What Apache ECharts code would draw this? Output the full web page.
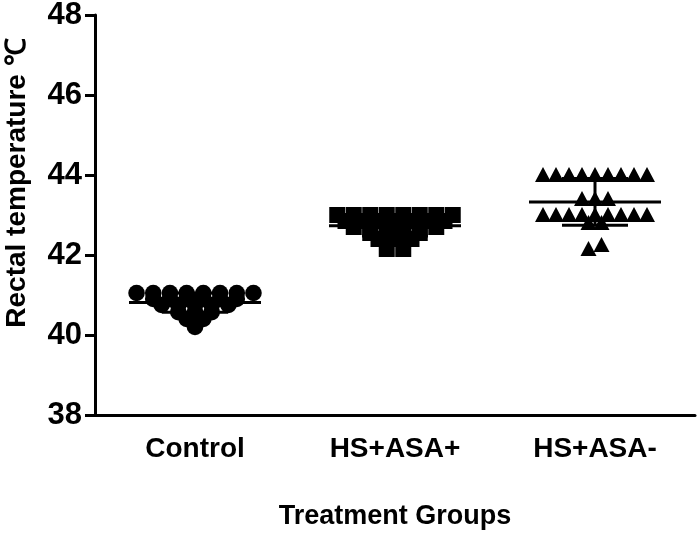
<!DOCTYPE html>
<html><head><meta charset="utf-8">
<script src="https://cdn.jsdelivr.net/npm/echarts@6/dist/echarts.min.js"></script>
<style>html,body{margin:0;padding:0;background:#fff}#c{width:700px;height:535px}</style>
</head><body><div id="c"></div>
<script>
const categories = ['Control', 'HS+ASA+', 'HS+ASA-'];
const controlValues = [41.05,41.05,41.05,41.05,41.05,41.05,41.05,41.05,
  40.9,40.9,40.9,40.9,40.9,40.9,
  40.75,40.75,40.75,40.75,40.75,
  40.57,40.57,40.57,
  40.4,40.4,
  40.2];
const hsAsaPlusValues = [43.0,43.0,43.0,43.0,43.0,43.0,43.0,43.0,
  42.85,42.85,42.85,42.85,42.85,42.85,42.85,
  42.7,42.7,42.7,42.7,42.7,42.7,
  42.55,42.55,42.55,42.55,
  42.4,42.4,42.4,
  42.15,42.15];
const hsAsaMinusValues = [44.0,44.0,44.0,44.0,44.0,44.0,44.0,44.0,44.0,
  43.4,43.4,43.4,
  43.0,43.0,43.0,43.0,43.0,43.0,43.0,43.0,43.0,
  42.8,42.8,
  42.25,42.15];
const yTicks = [38, 40, 42, 44, 46, 48];

const FONT = "'Liberation Sans', Arial, sans-serif";

// beeswarm-like row layout: values close together share a row, centred on the category
function swarm(values, catIndex, threshold) {
  const s = values.slice().sort((a, b) => a - b);
  const rows = [];
  s.forEach(v => {
    const r = rows[rows.length - 1];
    if (r && v - r[0] < threshold) r.push(v); else rows.push([v]);
  });
  const out = [];
  rows.forEach(r => r.forEach((v, k) => out.push([catIndex, v, k - (r.length - 1) / 2])));
  return out;
}
function stats(values, catIndex) {
  const n = values.length;
  const m = values.reduce((a, b) => a + b, 0) / n;
  const sd = Math.sqrt(values.reduce((a, b) => a + (b - m) * (b - m), 0) / (n - 1));
  return [catIndex, m, sd];
}

function pointSeries(data, shape, spacing) {
  return {
    type: 'custom', data: data, z: 2,
    encode: { x: 0, y: 1 },
    renderItem(params, api) {
      const p = api.coord([api.value(0), api.value(1)]);
      const x = p[0] + api.value(2) * spacing, y = p[1];
      const style = { fill: '#000' };
      if (shape === 'circle') return { type: 'circle', shape: { cx: x, cy: y, r: 8.3 }, style };
      if (shape === 'square') return { type: 'rect', shape: { x: x - 8, y: y - 8, width: 16, height: 16 }, style };
      return { type: 'polygon', shape: { points: [[x, y - 8], [x - 8, y + 7], [x + 8, y + 7]] }, style };
    }
  };
}

const statData = [stats(controlValues, 0), stats(hsAsaPlusValues, 1), stats(hsAsaMinusValues, 2)];

const chart = echarts.init(document.getElementById('c'));
chart.setOption({
  animation: false,
  backgroundColor: '#fff',
  grid: { left: 95, right: 5, top: 15, bottom: 120, containLabel: false, outerBoundsMode: 'none' },
  xAxis: {
    type: 'category', data: categories, boundaryGap: true,
    name: 'Treatment Groups', nameLocation: 'middle', nameGap: 88,
    nameTextStyle: { fontFamily: FONT, fontWeight: 'bold', fontSize: 27, color: '#000' },
    axisLine: { lineStyle: { color: '#000', width: 3 } },
    axisTick: { alignWithLabel: true, length: 8, lineStyle: { color: '#000', width: 3 } },
    axisLabel: { fontFamily: FONT, fontWeight: 'bold', fontSize: 28, color: '#000', margin: 20 },
    splitLine: { show: false }
  },
  yAxis: {
    type: 'value', min: yTicks[0], max: yTicks[yTicks.length - 1], interval: 2,
    name: 'Rectal temperature ℃', nameLocation: 'middle', nameGap: 64, nameRotate: 90,
    nameTextStyle: { fontFamily: FONT, fontWeight: 'bold', fontSize: 28, color: '#000', padding: [0, 0, 0, 64] },
    axisLine: { show: true, lineStyle: { color: '#000', width: 3 } },
    axisTick: { show: true, length: 10, lineStyle: { color: '#000', width: 3 } },
    axisLabel: { fontFamily: FONT, fontWeight: 'bold', fontSize: 31, color: '#000', margin: 13 },
    splitLine: { show: false }
  },
  series: [
    pointSeries(swarm(controlValues, 0, 0.12), 'circle', 16.7),
    pointSeries(swarm(hsAsaPlusValues, 1, 0.12), 'square', 16.5),
    pointSeries(swarm(hsAsaMinusValues, 2, 0.12), 'triangle', 13),
    {
      type: 'custom', data: statData, z: 3,
      encode: { x: 0, y: 1 },
      renderItem(params, api) {
        const i = api.value(0), m = api.value(1), sd = api.value(2);
        const pm = api.coord([i, m]), pt = api.coord([i, m + sd]), pb = api.coord([i, m - sd]);
        const st = { stroke: '#000', lineWidth: 3 };
        const x = pm[0];
        return { type: 'group', children: [
          { type: 'line', shape: { x1: x - 66, y1: pm[1], x2: x + 66, y2: pm[1] }, style: st },
          { type: 'line', shape: { x1: x, y1: pt[1], x2: x, y2: pb[1] }, style: st },
          { type: 'line', shape: { x1: x - 33, y1: pt[1], x2: x + 33, y2: pt[1] }, style: st },
          { type: 'line', shape: { x1: x - 33, y1: pb[1], x2: x + 33, y2: pb[1] }, style: st }
        ]};
      }
    }
  ]
});
</script></body></html>
